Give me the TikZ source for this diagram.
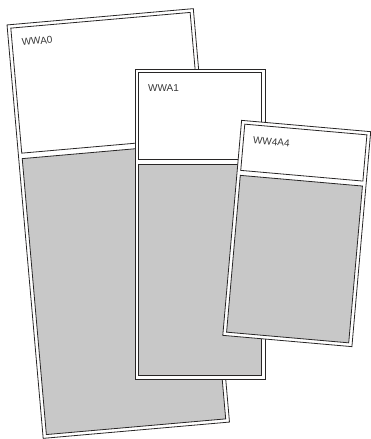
\documentclass[tikz,border=0pt]{standalone}
\usepackage{fontspec}
\setsansfont{Liberation Sans}
\usepackage{xcolor}
\usepackage{tikz}
\definecolor{edge}{RGB}{40,38,38}
\definecolor{ink}{RGB}{55,55,55}
\definecolor{panel}{RGB}{200,200,200}

\begin{document}
\begin{tikzpicture}[x=1pt,y=-1pt,
  sheet/.style={draw=edge,line width=0.8pt,fill=white},
  labelpanel/.style={draw=edge,line width=0.8pt,fill=white},
  graypanel/.style={draw=edge,line width=0.8pt,fill=panel},
  sheetlabel/.style={text=ink,inner sep=0pt,anchor=base west,
    font=\sffamily\fontsize{10}{12}\selectfont}]
\useasboundingbox (0,0) rectangle (371,439);
% cards: centre / angle / half sizes / panel split / label
\foreach \cx/\cy/\ang/\hw/\hh/\wbot/\gtop/\txt in
  {118.25/223.5/5/93.5/207.5/-78.5/-73/WWA0,
   200/224/0/65/155/-65/-60/WWA1,
   296.75/233.5/-5/64.8/107.9/-58/-53/WW4A4} {
  \begin{scope}[shift={(\cx,\cy)},rotate=\ang]
    \draw[sheet] (-\hw,-\hh) rectangle (\hw,\hh);
    \draw[labelpanel] (-\hw+3.5,-\hh+3.5) rectangle (\hw-3.5,\wbot);
    \draw[graypanel] (-\hw+3.5,\gtop) rectangle (\hw-3.5,\hh-3.5);
    \node[sheetlabel,rotate=\ang] (lbl\txt) at (-\hw+13,-\hh+22) {\txt};
  \end{scope}
}
\end{tikzpicture}
\end{document}
